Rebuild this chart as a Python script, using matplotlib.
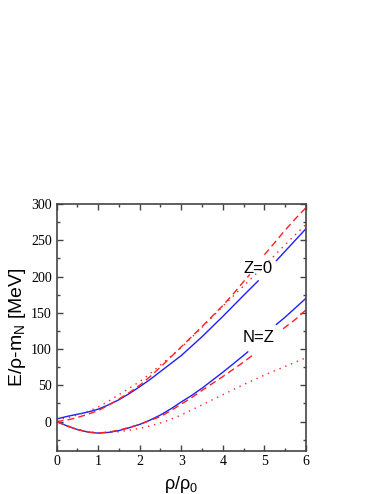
import numpy as np
import matplotlib
matplotlib.use("Agg")
import matplotlib.pyplot as plt
from matplotlib.ticker import MultipleLocator

# rho/rho0 and E/rho - m_N [MeV] (nan = break for labels)
x_pnm_solid = [0, 0.25, 0.5, 0.75, 1, 1.25, 1.5, 1.75, 2, 2.25, 2.5, 2.75, 3, 3.25, 3.5, 3.75, 4, 4.25, 4.5, 4.85,
               np.nan, 5.29, 5.5, 5.75, 6]
y_pnm_solid = [3.5, 7, 10, 13, 17, 23, 30, 38.5, 48, 58, 69, 80, 91, 104, 117, 131, 145, 159.5, 174, 194,
               np.nan, 222, 235, 250.5, 266]

x_pnm_dash = [0, 0.25, 0.5, 0.75, 1, 1.25, 1.5, 1.75, 2, 2.25, 2.5, 2.75, 3, 3.25, 3.5, 3.75, 4, 4.25, 4.5, 4.65,
              np.nan, 5.0, 5.25, 5.5, 5.75, 6]
y_pnm_dash = [0, 2, 5.5, 10, 15, 22.5, 31, 40, 50, 62, 75, 89, 103, 117, 131, 145.5, 160, 176, 193, 203,
              np.nan, 230, 247, 264, 280, 295]

x_pnm_dot = [0, 0.25, 0.5, 0.75, 1, 1.25, 1.5, 1.75, 2, 2.25, 2.5, 2.75, 3, 3.25, 3.5, 3.75, 4, 4.25, 4.5, 4.75,
             5, 5.25, 5.5, 5.75, 6]
y_pnm_dot = [2, 5, 9, 14, 20, 28, 37, 46, 55, 66, 78, 90, 102, 116, 130, 144.5, 159, 173, 187, 201,
             215, 229.5, 244, 258, 272]

x_snm_solid = [0, 0.25, 0.5, 0.75, 1, 1.25, 1.5, 1.75, 2, 2.25, 2.5, 2.75, 3, 3.25, 3.5, 3.75, 4, 4.25, 4.6,
               np.nan, 5.29, 5.5, 5.75, 6]
y_snm_solid = [0, -6, -11, -14.5, -16, -15, -12.5, -8.5, -4, 2, 9, 17.5, 27, 36, 46, 57, 68, 79.5, 96,
               np.nan, 134, 144, 157, 170]

x_snm_dash = [0, 0.25, 0.5, 0.75, 1, 1.25, 1.5, 1.75, 2, 2.25, 2.5, 2.75, 3, 3.25, 3.5, 3.75, 4, 4.25, 4.5, 4.75,
              np.nan, 5.45, 5.75, 6]
y_snm_dash = [0, -6, -11, -14.5, -16, -14.5, -12, -8, -4, 1.5, 7, 15, 24, 33, 43, 52.5, 62, 72, 82, 93,
              np.nan, 128, 141, 154]

x_snm_dot = [0, 0.25, 0.5, 0.75, 1, 1.25, 1.5, 1.75, 2, 2.25, 2.5, 2.75, 3, 3.25, 3.5, 3.75, 4, 4.25, 4.5, 4.75,
             5, 5.25, 5.5, 5.75, 6]
y_snm_dot = [0, -6, -11, -14, -15.5, -15, -14, -12, -9.5, -6, -2, 3, 9, 16, 23, 30, 37, 44, 51, 57.5,
             64, 70, 76, 82, 88]

plt.rcParams['font.family'] = ['Liberation Sans', 'DejaVu Sans']

fig = plt.figure(figsize=(3.82, 4.94), dpi=100)
ax = fig.add_axes([0.148, 0.088, 0.653, 0.499])

blue = '#1f1fff'
red = '#ff2020'
ax.plot(x_pnm_solid, y_pnm_solid, color=blue, lw=1.0)
ax.plot(x_snm_solid, y_snm_solid, color=blue, lw=1.0)
ax.plot(x_pnm_dash, y_pnm_dash, color=red, lw=1.0, dashes=(5, 3))
ax.plot(x_snm_dash, y_snm_dash, color=red, lw=1.0, dashes=(5, 3))
ax.plot(x_pnm_dot, y_pnm_dot, color=red, lw=1.0, dashes=(1, 3.5))
ax.plot(x_snm_dot, y_snm_dot, color=red, lw=1.0, dashes=(1, 3.5))

ax.text(4.85, 211, 'Z=0', fontsize=12, ha='center', va='center')
ax.text(4.87, 116, 'N=Z', fontsize=12, ha='center', va='center')

ax.set_xlim(0, 6)
ax.set_ylim(-40, 300)
ax.xaxis.set_major_locator(MultipleLocator(1))
ax.xaxis.set_minor_locator(MultipleLocator(0.5))
ax.yaxis.set_major_locator(MultipleLocator(50))
ax.yaxis.set_minor_locator(MultipleLocator(25))
ax.tick_params(which='both', direction='in', top=True, right=True, color='#444444', width=1)
ax.tick_params(which='major', length=4)
ax.tick_params(which='minor', length=2.5)
for lab in ax.get_xticklabels() + ax.get_yticklabels():
    lab.set_family('Liberation Serif')
    lab.set_fontsize(10)
for s in ax.spines.values():
    s.set_color('#444444')
    s.set_linewidth(1.2)

ax.set_xlabel('ρ/ρ$_\\mathregular{0}$', fontsize=13, labelpad=4)
ax.set_ylabel('E/ρ-m$_\\mathregular{N}$ [MeV]', fontsize=14, labelpad=2)

fig.savefig('out.png', dpi=100)
